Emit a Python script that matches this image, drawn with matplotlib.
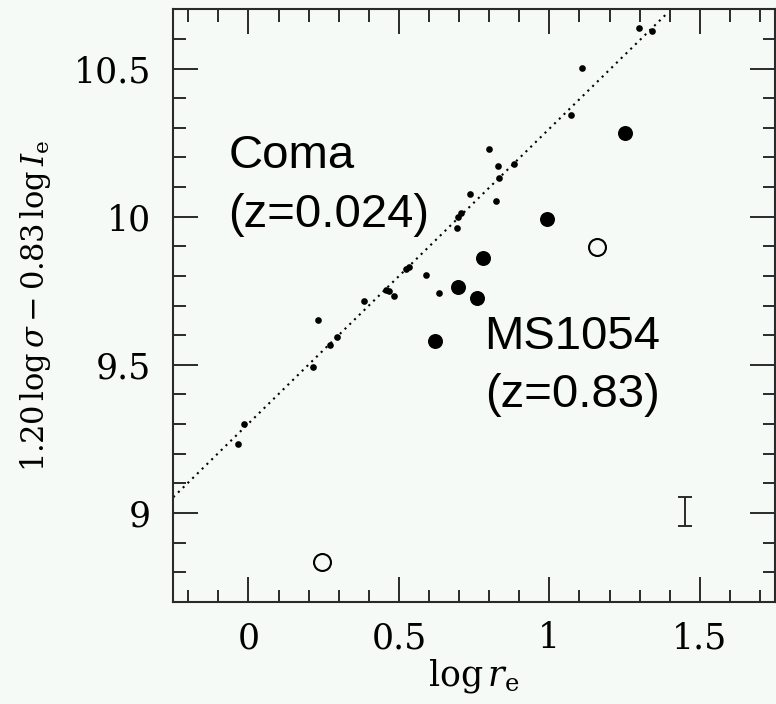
import matplotlib.pyplot as plt
import numpy as np

# Coma galaxies (small dots)
coma_x = [1.298, 1.340, 1.107, 1.073, 0.800, 0.830, 0.882, 0.834, 0.735, 0.822,
          0.706, 0.695, 0.693, 0.524, 0.535, 0.589, 0.456, 0.466, 0.485, 0.383,
          0.632, 0.232, 0.293, 0.271, 0.215, -0.014, -0.036]
coma_y = [10.636, 10.626, 10.503, 10.342, 10.227, 10.171, 10.178, 10.129, 10.077, 10.054,
          10.013, 10.000, 9.962, 9.824, 9.831, 9.802, 9.754, 9.748, 9.733, 9.714,
          9.742, 9.652, 9.593, 9.568, 9.492, 9.301, 9.232]

# MS1054 galaxies (big filled dots)
ms_x = [1.252, 0.992, 0.779, 0.696, 0.759, 0.619]
ms_y = [10.284, 9.991, 9.860, 9.764, 9.726, 9.580]

# MS1054 open circles
open_x = [1.160, 0.243]
open_y = [9.897, 8.835]

# fundamental plane (dotted line)
fp_x = [-0.25, 1.39]
fp_y = [9.053, 10.685]

# typical error bar
err_x = [1.45]
err_y = [9.005]
err_dy = [0.05]

bg = "#f5faf7"
ink = "#2a2a2a"

plt.rcParams["mathtext.fontset"] = "dejavuserif"

fig = plt.figure(figsize=(7.76, 7.04), dpi=100, facecolor=bg)
ax = fig.add_axes([0.2233, 0.1452, 0.7754, 0.8416])
ax.set_facecolor(bg)

ax.plot(fp_x, fp_y, color="black", lw=1.5, linestyle=(0, (1, 2.2)))
ax.plot(coma_x, coma_y, "o", color="black", ms=4.8, mew=0)
ax.plot(ms_x, ms_y, "o", color="black", ms=10.8, mew=0)
ax.plot(open_x, open_y, "o", mfc="none", mec="black", ms=12.2, mew=1.5)
ax.errorbar(err_x, err_y, yerr=err_dy, fmt="none", ecolor=ink,
            elinewidth=1.4, capsize=5, capthick=1.4)

ax.set_xlim(-0.25, 1.75)
ax.set_ylim(8.7, 10.7)
ax.set_xticks([0, 0.5, 1, 1.5])
ax.set_xticklabels(["0", "0.5", "1", "1.5"])
ax.set_yticks([9, 9.5, 10, 10.5])
ax.set_yticklabels(["9", "9.5", "10", "10.5"])
ax.set_xticks(np.arange(-0.2, 1.75, 0.1), minor=True)
ax.set_yticks(np.arange(8.8, 10.7, 0.1), minor=True)

ax.tick_params(which="both", direction="in", top=True, right=True,
               color=ink, width=1.4, labelsize=25,
               labelfontfamily="DejaVu Serif")
ax.tick_params(which="major", length=18)
ax.tick_params(which="minor", length=9)
ax.tick_params(axis="x", pad=14)
ax.tick_params(axis="y", pad=16)
for s in ax.spines.values():
    s.set_color(ink)
    s.set_linewidth(1.5)

ax.set_xlabel(r"$\log r_{\rm e}$", fontsize=25, labelpad=1)
ax.set_ylabel(r"$1.20\,\log\sigma-0.83\,\log I_{\rm e}$", fontsize=22, labelpad=15)

tfont = dict(family="Liberation Sans", fontsize=34, color="black", va="baseline")
ax.text(-0.067, 10.165, "Coma", **tfont)
ax.text(-0.067, 9.964, "(z=0.024)", **tfont)
ax.text(0.782, 9.554, "MS1054", **tfont)
ax.text(0.785, 9.357, "(z=0.83)", **tfont)

fig.savefig("out.png", dpi=100, facecolor=bg)
